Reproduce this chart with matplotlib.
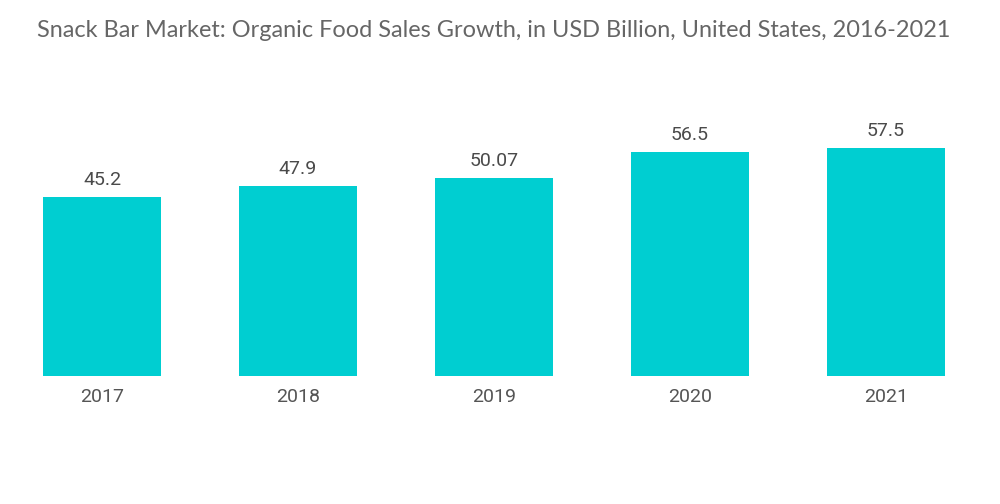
import matplotlib
matplotlib.use("Agg")
import matplotlib.pyplot as plt

# chart data
years = ["2017", "2018", "2019", "2020", "2021"]
sales = [45.2, 47.9, 50.07, 56.5, 57.5]
labels = ["45.2", "47.9", "50.07", "56.5", "57.5"]

fig = plt.figure(figsize=(10, 5.04), dpi=100)
ax = fig.add_axes([0.004, 0.254, 0.98, 0.628])

ax.bar(range(len(years)), sales, width=0.6, color="#00CED1")
for i, (v, t) in enumerate(zip(sales, labels)):
    ax.annotate(t, (i, v), xytext=(0, 6), textcoords="offset points",
                ha="center", va="bottom", fontsize=14, color="#4a4a4a",
                family="Roboto")

ax.set_xlim(-0.5, len(years) - 0.5)
ax.set_ylim(0, 80)
ax.set_xticks(range(len(years)))
ax.set_xticklabels(years, fontsize=14, color="#555555", family="Roboto")
ax.tick_params(axis="x", length=0, pad=9)
ax.set_yticks([])
for s in ax.spines.values():
    s.set_visible(False)

fig.text(0.037, 0.94, "Snack Bar Market: Organic Food Sales Growth, in USD Billion, United States, 2016-2021",
         fontsize=16.9, color="#666666", family="Lato", ha="left", va="center")

fig.savefig("out.png", dpi=100)
